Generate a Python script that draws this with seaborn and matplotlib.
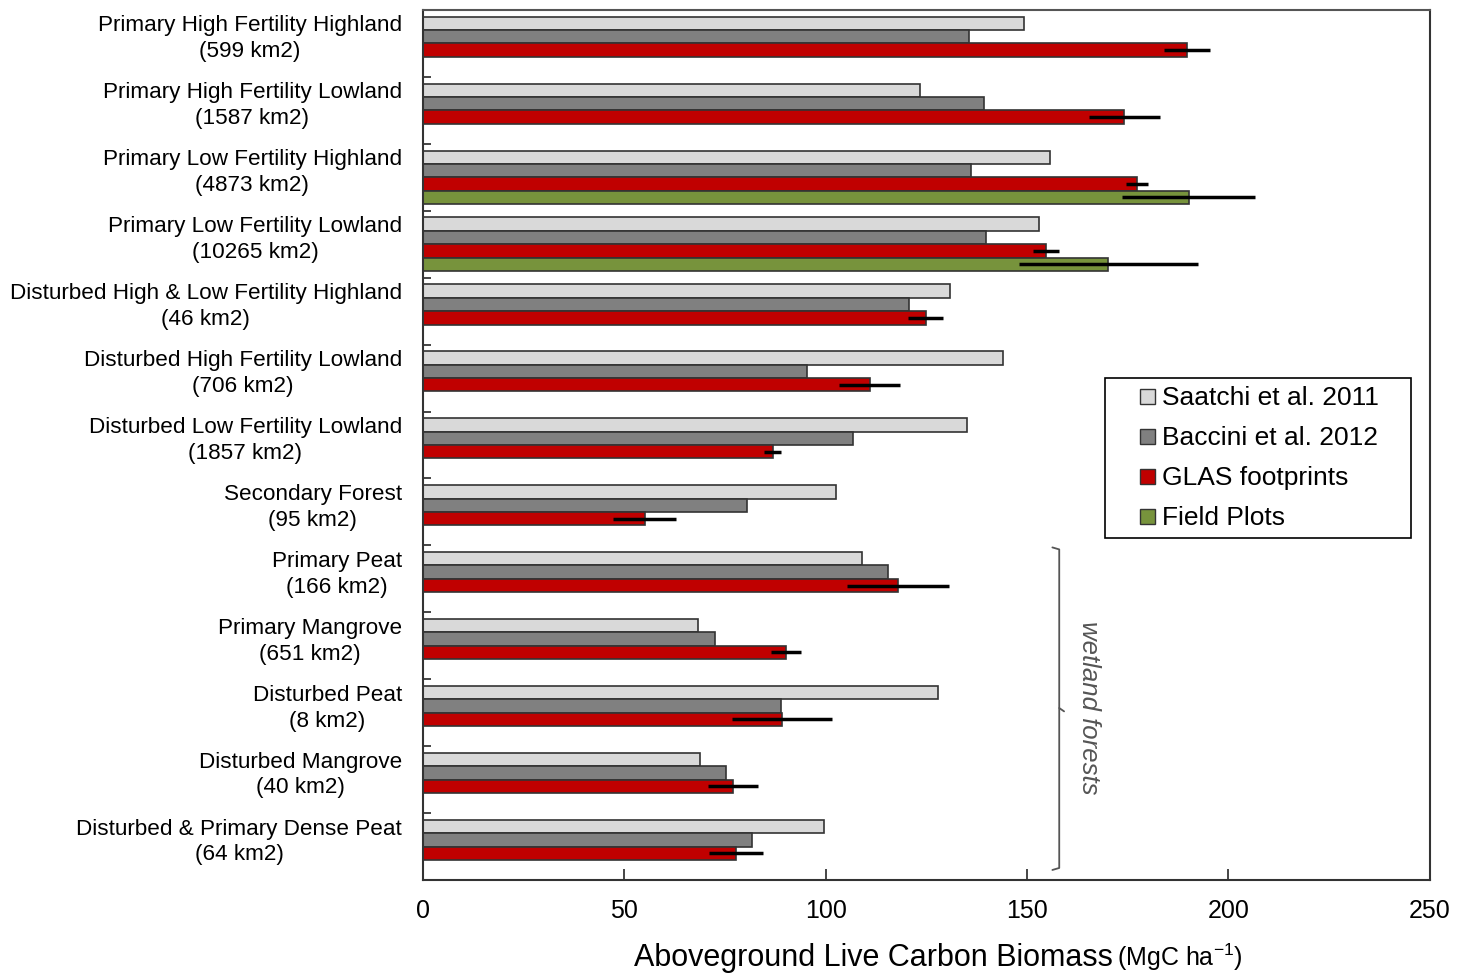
import numpy as np
import pandas as pd
import seaborn as sns
import matplotlib.pyplot as plt
from matplotlib.colors import to_rgba
from matplotlib.container import BarContainer
from matplotlib.lines import Line2D
from matplotlib.patches import Rectangle
from matplotlib.transforms import ScaledTranslation

categories = [
    "Primary High Fertility Highland\n(599 km2)",
    "Primary High Fertility Lowland\n(1587 km2)",
    "Primary Low Fertility Highland\n(4873 km2)",
    "Primary Low Fertility Lowland\n(10265 km2)",
    "Disturbed High & Low Fertility Highland\n(46 km2)",
    "Disturbed High Fertility Lowland\n(706 km2)",
    "Disturbed Low Fertility Lowland\n(1857 km2)",
    "Secondary Forest\n(95 km2)",
    "Primary Peat\n(166 km2)",
    "Primary Mangrove\n(651 km2)",
    "Disturbed Peat\n(8 km2)",
    "Disturbed Mangrove\n(40 km2)",
    "Disturbed & Primary Dense Peat\n(64 km2)",
]
sources = ["Saatchi et al. 2011", "Baccini et al. 2012", "GLAS footprints", "Field Plots"]
colors = ["#D9D9D9", "#808080", "#C00000", "#77933C"]

saatchi = [149.2, 123.5, 155.7, 153.0, 130.8, 144.0, 135.1, 102.6, 109.0, 68.4, 127.8, 68.7, 99.6]
baccini = [135.6, 139.4, 136.0, 139.9, 120.8, 95.5, 106.9, 80.4, 115.4, 72.6, 89.0, 75.2, 81.7]
glas = [189.8, 174.1, 177.3, 154.7, 124.8, 110.9, 86.9, 55.1, 118.0, 90.2, 89.2, 77.0, 77.8]
glas_err = [5.7, 8.8, 2.8, 3.3, 4.3, 7.6, 2.1, 7.8, 12.6, 3.8, 12.4, 6.2, 6.7]
nan = np.nan
field = [nan, nan, 190.1, 170.2, nan, nan, nan, nan, nan, nan, nan, nan, nan]
field_err = [nan, nan, 16.4, 22.2, nan, nan, nan, nan, nan, nan, nan, nan, nan]

rows = []
for src, vals in zip(sources, [saatchi, baccini, glas, field]):
    for cat, v in zip(categories, vals):
        if not np.isnan(v):
            rows.append({"category": cat, "source": src, "value": v})
df = pd.DataFrame(rows)

sns.set_style("white")
plt.rcParams["font.family"] = ["Liberation Sans", "DejaVu Sans"]
plt.rcParams["mathtext.default"] = "regular"

fig = plt.figure(figsize=(14.68, 9.74), dpi=100)
ax = fig.add_axes([0.288, 0.0965, 0.686, 0.8932])

sns.barplot(
    data=df, x="value", y="category", hue="source",
    order=categories, hue_order=sources, palette=colors, saturation=1,
    orient="h", errorbar=None, width=0.8,
    edgecolor="#333333", linewidth=1.2, ax=ax, legend=False,
)

# error bars for GLAS and field plots, placed on the drawn bars
bar_conts = [c for c in ax.containers if isinstance(c, BarContainer)]
for src, errs in [("GLAS footprints", glas_err), ("Field Plots", field_err)]:
    col = to_rgba(colors[sources.index(src)])
    for cont in bar_conts:
        if np.allclose(cont.patches[0].get_facecolor(), col, atol=0.01):
            bars = sorted(cont.patches, key=lambda b: b.get_y())
            ev = [e for e in errs if not np.isnan(e)]
            for b, e in zip(bars, ev):
                ax.errorbar(b.get_width(), b.get_y() + b.get_height() / 2, xerr=e,
                            fmt="none", ecolor="black", elinewidth=2.5, capsize=0, zorder=5)

ax.set_xlim(0, 250)
ax.set_ylim(len(categories) - 0.5, -0.5)
ax.set_xticks([0, 50, 100, 150, 200, 250])
ax.set_xlabel("")
ax.set_ylabel("")
ax.tick_params(axis="x", direction="in", length=8, width=1.2, pad=14, labelsize=18,
               bottom=True, labelcolor="black")
ax.tick_params(axis="y", which="major", length=0, pad=15, labelsize=16.2, labelcolor="black")
ax.set_yticks(np.arange(0.5, len(categories) - 1, 1), minor=True)
ax.tick_params(axis="y", which="minor", direction="in", length=6, width=1.2, left=True)
shift = ScaledTranslation(0, 0.095, fig.dpi_scale_trans)
for lab in ax.get_yticklabels():
    lab.set_multialignment("center")
    lab.set_linespacing(1.3)
    lab.set_transform(lab.get_transform() + shift)

for side in ["left", "bottom", "right", "top"]:
    ax.spines[side].set_visible(True)
    ax.spines[side].set_color("#333333")
    ax.spines[side].set_linewidth(1.5)
ax.spines["top"].set_color("#555555")

# legend with a hand-drawn frame
box = Rectangle((0.677, 0.393), 0.304, 0.184, transform=ax.transAxes,
                facecolor="white", edgecolor="black", lw=1.2, zorder=6)
ax.add_patch(box)
handles = [Line2D([], [], marker="s", markersize=10.8, markerfacecolor=c,
                  markeredgecolor="#333333", markeredgewidth=1.0, linestyle="none")
           for c in colors]
leg = ax.legend(handles, sources, loc="center", bbox_to_anchor=(0.829, 0.485),
                fontsize=19, frameon=False, handlelength=0.8, handletextpad=0.2,
                labelspacing=0.6, borderpad=0, labelcolor="black")
leg.set_zorder(7)

# wetland forests brace
bx, y0, y1, ym = 158.0, 7.53, 12.35, 9.93
ax.plot([bx - 1.7, bx, bx, bx - 1.7], [y0, y0 + 0.03, y1 - 0.03, y1], color="#555555", lw=1.3)
ax.plot([bx, bx + 1.2], [ym, ym + 0.05], color="#555555", lw=1.3)
ax.text(165.5, ym, "wetland forests", rotation=-90, ha="center", va="center",
        fontsize=18.5, style="italic", color="#555555")

fig.text(1113 / 1468, 0.008, "Aboveground Live Carbon Biomass", ha="right",
         va="baseline", fontsize=22, color="black")
fig.text(1117 / 1468, 0.008, "(MgC ha$^{-1}$)", ha="left", va="baseline", fontsize=18,
         color="black")

fig.savefig("out.png", dpi=100)
